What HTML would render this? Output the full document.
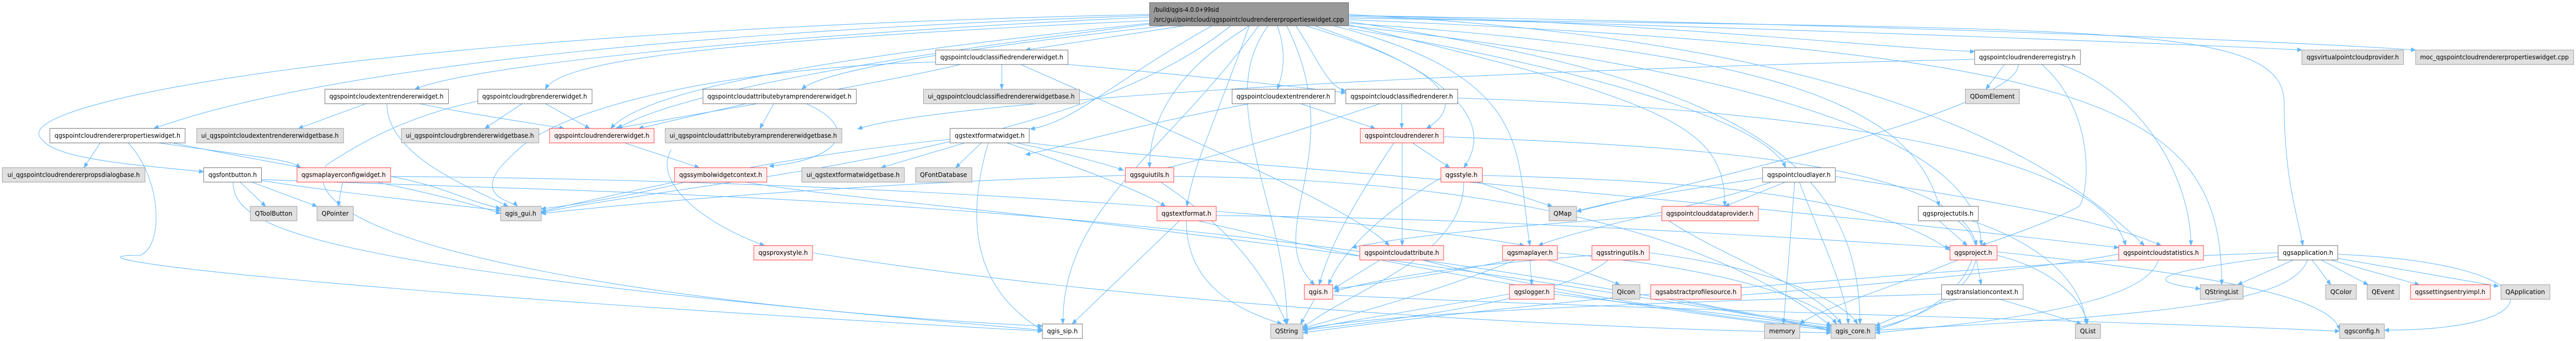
<!DOCTYPE html>
<html><head><meta charset="utf-8"><style>
html,body{margin:0;padding:0;background:#fff;width:100%;height:100%;overflow:hidden;}
svg{display:block;width:100vw;height:100vh;}
text{font-family:"DejaVu Sans","Liberation Sans",sans-serif;font-size:12px;fill:#000;}
.e{fill:none;stroke:#63b8ff;stroke-width:1.1;marker-end:url(#ah);}
.w{fill:#fff;stroke:#666;}
.g{fill:#e0e0e0;stroke:#999;}
.r{fill:#fff0f0;stroke:#f33;}
</style></head><body>
<svg viewBox="0 0 5526 661" preserveAspectRatio="none" xmlns="http://www.w3.org/2000/svg">
<defs><marker id="ah" markerWidth="11" markerHeight="9" refX="10" refY="4.5" orient="auto" markerUnits="userSpaceOnUse"><path d="M0,0 L11,4.5 L0,9 z" fill="#63b8ff"/></marker></defs>
<g>
<path class="e" d="M2540 50 C2400 70,2260 88,2200 97"/>
<path class="e" d="M2466 30 C1500 60,700 130,330 249"/>
<path class="e" d="M2466 33 C1600 70,1000 130,890 173"/>
<path class="e" d="M2466 28 C800 60,0 200,90 270 C120 310,300 320,437 333"/>
<path class="e" d="M2466 40 C1500 80,1200 120,1170 173"/>
<path class="e" d="M2466 45 C1900 100,1400 160,1310 249"/>
<path class="e" d="M2466 47 C1900 110,1450 180,1325 249"/>
<path class="e" d="M2500 50 C2000 100,1760 140,1720 173"/>
<path class="e" d="M2600 50 C2400 150,2300 240,2210 250"/>
<path class="e" d="M2640 50 C2300 300,1500 350,1161 412"/>
<path class="e" d="M2680 50 C2500 150,2466 250,2466 325"/>
<path class="e" d="M2700 50 C2500 300,2280 400,2280 628"/>
<path class="e" d="M2720 50 C2600 200,2761 400,2761 628"/>
<path class="e" d="M2740 50 C2760 100,2754 140,2740 173"/>
<path class="e" d="M2780 50 C2830 120,2850 170,2887 176"/>
<path class="e" d="M2800 50 C3100 130,3150 200,3060 249"/>
<path class="e" d="M2820 50 C3150 150,3200 250,3140 325"/>
<path class="e" d="M2680 50 C2600 250,2560 320,2546 400"/>
<path class="e" d="M2860 50 C3300 150,3250 300,3282 476"/>
<path class="e" d="M2893 45 C3800 100,4100 200,4160 400"/>
<path class="e" d="M2893 50 C3900 150,4250 300,4250 476"/>
<path class="e" d="M2893 55 C3500 150,3800 250,3830 325"/>
<path class="e" d="M2893 30 C3500 40,4000 90,4236 100"/>
<path class="e" d="M2893 28 C4000 80,4400 300,4600 476"/>
<path class="e" d="M2893 32 C4000 60,4800 90,4938 97"/>
<path class="e" d="M2893 30 C4200 50,5000 85,5182 97"/>
<path class="e" d="M2893 35 C4500 60,4900 40,4900 200 C4900 350,4930 420,4940 476"/>
<path class="e" d="M2893 38 C4500 100,4766 200,4766 552"/>
<path class="e" d="M2893 42 C3700 150,3990 300,3990 628"/>
<path class="e" d="M2893 48 C3600 200,3700 250,3700 400"/>
<path class="e" d="M2760 50 C2900 300,2700 450,2820 552"/>
<path class="e" d="M215 277 L180 325"/>
<path class="e" d="M340 277 C600 310,620 310,645 325"/>
<path class="e" d="M370 277 C600 320,900 360,1074 414"/>
<path class="e" d="M275 277 C350 350,350 480,300 495 C100 495,600 560,2236 642"/>
<path class="e" d="M515 353 L570 400"/>
<path class="e" d="M540 353 L680 400"/>
<path class="e" d="M561 350 C700 370,900 390,1074 408"/>
<path class="e" d="M500 353 C500 450,700 520,2236 640"/>
<path class="e" d="M561 348 C1500 380,2500 380,3928 640"/>
<path class="e" d="M735 353 L725 400"/>
<path class="e" d="M838 342 C950 360,1000 390,1074 404"/>
<path class="e" d="M838 342 C2000 350,3000 430,3270 476"/>
<path class="e" d="M785 201 L640 249"/>
<path class="e" d="M900 201 C1000 220,1150 240,1210 249"/>
<path class="e" d="M830 201 C830 300,1000 360,1090 400"/>
<path class="e" d="M1120 201 L1040 249"/>
<path class="e" d="M1170 201 L1265 249"/>
<path class="e" d="M1025 196 C900 220,800 260,700 320 C600 480,1500 600,2236 632"/>
<path class="e" d="M1600 201 L1370 249"/>
<path class="e" d="M1660 201 L1630 249"/>
<path class="e" d="M1730 201 C1850 250,1800 310,1650 322"/>
<path class="e" d="M1340 277 L1500 325"/>
<path class="e" d="M1470 353 C1350 380,1250 395,1161 405"/>
<path class="e" d="M1600 353 C1900 400,2500 420,3928 636"/>
<path class="e" d="M2149 125 L2149 173"/>
<path class="e" d="M2060 125 C1900 160,1500 220,1320 249"/>
<path class="e" d="M2010 120 C1600 130,1200 200,1100 300 C1000 380,1100 390,1110 400"/>
<path class="e" d="M2190 125 C2500 250,2900 400,2980 476"/>
<path class="e" d="M2291 125 C2600 150,2800 170,2887 180"/>
<path class="e" d="M1440 290 C1400 350,1500 430,1640 476"/>
<path class="e" d="M1743 490 C2500 600,3500 640,3928 645"/>
<path class="e" d="M2070 277 L1890 325"/>
<path class="e" d="M2105 277 L2050 325"/>
<path class="e" d="M2180 277 C2300 300,2380 320,2410 330"/>
<path class="e" d="M2160 277 C2300 320,2450 370,2500 400"/>
<path class="e" d="M2120 277 C2080 400,2070 550,2236 640"/>
<path class="e" d="M2038 270 C1700 300,1400 360,1161 410"/>
<path class="e" d="M2208 277 C2600 320,3300 350,4545 480"/>
<path class="e" d="M2414 340 C2000 350,1500 380,1161 414"/>
<path class="e" d="M2518 342 C3000 345,3600 400,3928 632"/>
<path class="e" d="M2490 353 C2600 420,2700 500,2760 628"/>
<path class="e" d="M2530 428 L2300 628"/>
<path class="e" d="M2545 428 C2545 550,2650 600,2750 628"/>
<path class="e" d="M2570 428 C2900 500,3500 600,3928 640"/>
<path class="e" d="M2609 418 C3000 420,3500 440,4183 480"/>
<path class="e" d="M2790 201 L2950 249"/>
<path class="e" d="M2680 201 C2400 250,2300 280,2200 300"/>
<path class="e" d="M3007 201 L3007 249"/>
<path class="e" d="M2960 201 C2700 280,2500 330,2470 330"/>
<path class="e" d="M3127 190 C3800 210,4500 280,4560 476"/>
<path class="e" d="M3030 277 L3110 325"/>
<path class="e" d="M3008 277 L3008 476"/>
<path class="e" d="M2990 277 C2900 400,2850 480,2830 552"/>
<path class="e" d="M3097 265 C3500 280,4200 300,4240 476"/>
<path class="e" d="M3170 353 L3330 400"/>
<path class="e" d="M3140 353 C3140 500,2900 560,2795 635"/>
<path class="e" d="M3091 345 C2950 420,2870 500,2850 552"/>
<path class="e" d="M3180 340 C3600 350,4000 370,4183 485"/>
<path class="e" d="M3830 353 L3700 400"/>
<path class="e" d="M3781 345 C3600 370,3450 390,3382 410"/>
<path class="e" d="M3850 353 L3826 628"/>
<path class="e" d="M3860 353 C3900 450,3960 560,3965 628"/>
<path class="e" d="M3937 342 C4200 380,4500 420,4636 476"/>
<path class="e" d="M3800 353 C3650 400,3400 440,3300 476"/>
<path class="e" d="M3580 428 C3700 500,3900 560,3950 628"/>
<path class="e" d="M3565 418 C3200 440,3000 460,2900 480"/>
<path class="e" d="M2960 504 L2860 560"/>
<path class="e" d="M3050 504 C3300 560,3700 620,3928 636"/>
<path class="e" d="M3240 504 C3100 530,2950 550,2862 560"/>
<path class="e" d="M3282 504 L3286 552"/>
<path class="e" d="M3320 504 C3380 520,3440 540,3475 552"/>
<path class="e" d="M3250 504 C3100 560,2900 610,2795 636"/>
<path class="e" d="M3341 490 C3700 520,3900 580,3940 628"/>
<path class="e" d="M3415 495 C3200 510,3000 530,2862 565"/>
<path class="e" d="M3450 504 C3350 580,3000 620,2795 640"/>
<path class="e" d="M3538 490 C3800 520,3950 580,3985 628"/>
<path class="e" d="M2820 580 L2790 628"/>
<path class="e" d="M2859 572 C3500 600,4500 620,5019 642"/>
<path class="e" d="M3238 570 C3050 600,2900 620,2795 640"/>
<path class="e" d="M3334 570 C3600 600,3850 620,3928 642"/>
<path class="e" d="M3600 580 C3750 610,3880 625,3930 632"/>
<path class="e" d="M3541 570 C3200 600,3000 620,2795 645"/>
<path class="e" d="M3735 572 C4200 540,4550 500,4600 480"/>
<path class="e" d="M4300 125 L4260 173"/>
<path class="e" d="M4330 125 C4330 200,3800 320,3382 410"/>
<path class="e" d="M4380 125 C4500 220,4480 380,4460 400 C4400 430,4300 460,4250 476"/>
<path class="e" d="M4420 125 C4600 180,4700 350,4700 476"/>
<path class="e" d="M4236 115 C3000 140,2000 200,1840 250"/>
<path class="e" d="M4160 428 L4220 476"/>
<path class="e" d="M4230 428 C4400 480,4470 560,4475 628"/>
<path class="e" d="M4200 428 C4300 500,4200 600,4023 636"/>
<path class="e" d="M4240 504 L4250 552"/>
<path class="e" d="M4200 504 C4050 560,3900 600,3861 628"/>
<path class="e" d="M4230 504 C4200 580,4100 620,4023 640"/>
<path class="e" d="M4284 495 C4400 520,4470 580,4478 628"/>
<path class="e" d="M4284 488 C4600 520,5000 560,5019 640"/>
<path class="e" d="M4200 580 C4100 600,4050 620,4023 632"/>
<path class="e" d="M4290 580 L4465 628"/>
<path class="e" d="M4165 570 C3800 580,3000 600,2795 638"/>
<path class="e" d="M4630 504 C4600 600,4200 630,4023 645"/>
<path class="e" d="M4920 504 L4800 552"/>
<path class="e" d="M4960 504 L5000 552"/>
<path class="e" d="M4980 504 L5080 552"/>
<path class="e" d="M5000 504 L5190 552"/>
<path class="e" d="M5010 500 L5360 555"/>
<path class="e" d="M5015 493 C5480 510,5500 640,5115 640"/>
<path class="e" d="M4950 504 C4920 580,4700 610,4023 640"/>
<path class="e" d="M4887 490 C4500 500,4000 540,3700 560"/>
<path class="e" d="M4887 497 C4700 520,4550 540,4720 560"/>
</g>
<g>
<rect x="2466" y="5" width="427" height="45" fill="#999" stroke="#666"/>
<text x="2475" y="23">/build/qgis-4.0.0+99sid</text>
<text x="2475" y="42" textLength="408" lengthAdjust="spacingAndGlyphs">/src/gui/pointcloud/qgspointcloudrendererpropertieswidget.cpp</text>
</g>
<g text-anchor="middle">
<rect class="w" x="2007" y="97" width="284" height="28"/><text x="2149" y="115" textLength="264" lengthAdjust="spacingAndGlyphs">qgspointcloudclassifiedrendererwidget.h</text>
<rect class="w" x="4236" y="97" width="227" height="28"/><text x="4349" y="115" textLength="207" lengthAdjust="spacingAndGlyphs">qgspointcloudrendererregistry.h</text>
<rect class="g" x="4938" y="97" width="218" height="28"/><text x="5047" y="115" textLength="198" lengthAdjust="spacingAndGlyphs">qgsvirtualpointcloudprovider.h</text>
<rect class="g" x="5182" y="97" width="339" height="28"/><text x="5351" y="115" textLength="319" lengthAdjust="spacingAndGlyphs">moc_qgspointcloudrendererpropertieswidget.cpp</text>

<rect class="w" x="697" y="173" width="265" height="28"/><text x="829" y="191" textLength="245" lengthAdjust="spacingAndGlyphs">qgspointcloudextentrendererwidget.h</text>
<rect class="w" x="1025" y="173" width="245" height="28"/><text x="1147" y="191" textLength="225" lengthAdjust="spacingAndGlyphs">qgspointcloudrgbrendererwidget.h</text>
<rect class="w" x="1508" y="173" width="329" height="28"/><text x="1672" y="191" textLength="309" lengthAdjust="spacingAndGlyphs">qgspointcloudattributebyramprendererwidget.h</text>
<rect class="g" x="1981" y="173" width="335" height="28"/><text x="2148" y="191" textLength="315" lengthAdjust="spacingAndGlyphs">ui_qgspointcloudclassifiedrendererwidgetbase.h</text>
<rect class="w" x="2643" y="173" width="221" height="28"/><text x="2753" y="191" textLength="201" lengthAdjust="spacingAndGlyphs">qgspointcloudextentrenderer.h</text>
<rect class="w" x="2887" y="173" width="240" height="28"/><text x="3007" y="191" textLength="220" lengthAdjust="spacingAndGlyphs">qgspointcloudclassifiedrenderer.h</text>
<rect class="g" x="4216" y="173" width="116" height="28"/><text x="4274" y="191" textLength="96" lengthAdjust="spacingAndGlyphs">QDomElement</text>

<rect class="w" x="107" y="249" width="290" height="28"/><text x="252" y="267" textLength="270" lengthAdjust="spacingAndGlyphs">qgspointcloudrendererpropertieswidget.h</text>
<rect class="g" x="422" y="249" width="315" height="28"/><text x="579" y="267" textLength="295" lengthAdjust="spacingAndGlyphs">ui_qgspointcloudextentrendererwidgetbase.h</text>
<rect class="g" x="861" y="249" width="295" height="28"/><text x="1008" y="267" textLength="275" lengthAdjust="spacingAndGlyphs">ui_qgspointcloudrgbrendererwidgetbase.h</text>
<rect class="r" x="1179" y="249" width="224" height="28"/><text x="1291" y="267" textLength="204" lengthAdjust="spacingAndGlyphs">qgspointcloudrendererwidget.h</text>
<rect class="g" x="1427" y="249" width="379" height="28"/><text x="1616" y="267" textLength="359" lengthAdjust="spacingAndGlyphs">ui_qgspointcloudattributebyramprendererwidgetbase.h</text>
<rect class="w" x="2038" y="249" width="170" height="28"/><text x="2123" y="267" textLength="150" lengthAdjust="spacingAndGlyphs">qgstextformatwidget.h</text>
<rect class="r" x="2918" y="249" width="179" height="28"/><text x="3007" y="267" textLength="159" lengthAdjust="spacingAndGlyphs">qgspointcloudrenderer.h</text>

<rect class="g" x="5" y="325" width="306" height="28"/><text x="158" y="343" textLength="284" lengthAdjust="spacingAndGlyphs">ui_qgspointcloudrendererpropsdialogbase.h</text>
<rect class="w" x="437" y="325" width="124" height="28"/><text x="499" y="343" textLength="104" lengthAdjust="spacingAndGlyphs">qgsfontbutton.h</text>
<rect class="r" x="637" y="325" width="201" height="28"/><text x="737" y="343" textLength="181" lengthAdjust="spacingAndGlyphs">qgsmaplayerconfigwidget.h</text>
<rect class="r" x="1447" y="325" width="198" height="28"/><text x="1546" y="343" textLength="178" lengthAdjust="spacingAndGlyphs">qgssymbolwidgetcontext.h</text>
<rect class="g" x="1720" y="325" width="220" height="28"/><text x="1830" y="343" textLength="200" lengthAdjust="spacingAndGlyphs">ui_qgstextformatwidgetbase.h</text>
<rect class="g" x="1964" y="325" width="121" height="28"/><text x="2024" y="343" textLength="101" lengthAdjust="spacingAndGlyphs">QFontDatabase</text>
<rect class="r" x="2414" y="325" width="104" height="28"/><text x="2466" y="343" textLength="84" lengthAdjust="spacingAndGlyphs">qgsguiutils.h</text>
<rect class="r" x="3091" y="325" width="89" height="28"/><text x="3135" y="343" textLength="69" lengthAdjust="spacingAndGlyphs">qgsstyle.h</text>
<rect class="w" x="3781" y="325" width="156" height="28"/><text x="3859" y="343" textLength="136" lengthAdjust="spacingAndGlyphs">qgspointcloudlayer.h</text>

<rect class="g" x="537" y="400" width="100" height="28"/><text x="587" y="418" textLength="80" lengthAdjust="spacingAndGlyphs">QToolButton</text>
<rect class="g" x="680" y="400" width="78" height="28"/><text x="719" y="418" textLength="58" lengthAdjust="spacingAndGlyphs">QPointer</text>
<rect class="g" x="1074" y="400" width="87" height="28"/><text x="1117" y="418" textLength="67" lengthAdjust="spacingAndGlyphs">qgis_gui.h</text>
<rect class="r" x="2482" y="400" width="127" height="28"/><text x="2545" y="418" textLength="107" lengthAdjust="spacingAndGlyphs">qgstextformat.h</text>
<rect class="g" x="3323" y="400" width="59" height="28"/><text x="3352" y="418" textLength="39" lengthAdjust="spacingAndGlyphs">QMap</text>
<rect class="r" x="3565" y="400" width="207" height="28"/><text x="3668" y="418" textLength="187" lengthAdjust="spacingAndGlyphs">qgspointclouddataprovider.h</text>
<rect class="w" x="4115" y="400" width="129" height="28"/><text x="4179" y="418" textLength="109" lengthAdjust="spacingAndGlyphs">qgsprojectutils.h</text>

<rect class="r" x="1617" y="476" width="126" height="28"/><text x="1680" y="494" textLength="106" lengthAdjust="spacingAndGlyphs">qgsproxystyle.h</text>
<rect class="r" x="2917" y="476" width="180" height="28"/><text x="3007" y="494" textLength="160" lengthAdjust="spacingAndGlyphs">qgspointcloudattribute.h</text>
<rect class="r" x="3223" y="476" width="118" height="28"/><text x="3282" y="494" textLength="98" lengthAdjust="spacingAndGlyphs">qgsmaplayer.h</text>
<rect class="r" x="3415" y="476" width="123" height="28"/><text x="3476" y="494" textLength="103" lengthAdjust="spacingAndGlyphs">qgsstringutils.h</text>
<rect class="r" x="4183" y="476" width="101" height="28"/><text x="4233" y="494" textLength="81" lengthAdjust="spacingAndGlyphs">qgsproject.h</text>
<rect class="r" x="4545" y="476" width="182" height="28"/><text x="4636" y="494" textLength="162" lengthAdjust="spacingAndGlyphs">qgspointcloudstatistics.h</text>
<rect class="w" x="4887" y="476" width="128" height="28"/><text x="4951" y="494" textLength="108" lengthAdjust="spacingAndGlyphs">qgsapplication.h</text>

<rect class="r" x="2798" y="552" width="61" height="28"/><text x="2828" y="570" textLength="41" lengthAdjust="spacingAndGlyphs">qgis.h</text>
<rect class="r" x="3238" y="552" width="96" height="28"/><text x="3286" y="570" textLength="76" lengthAdjust="spacingAndGlyphs">qgslogger.h</text>
<rect class="g" x="3459" y="552" width="59" height="28"/><text x="3488" y="570" textLength="39" lengthAdjust="spacingAndGlyphs">QIcon</text>
<rect class="r" x="3541" y="552" width="194" height="28"/><text x="3638" y="570" textLength="174" lengthAdjust="spacingAndGlyphs">qgsabstractprofilesource.h</text>
<rect class="w" x="4165" y="552" width="175" height="28"/><text x="4252" y="570" textLength="155" lengthAdjust="spacingAndGlyphs">qgstranslationcontext.h</text>
<rect class="g" x="4720" y="552" width="92" height="28"/><text x="4766" y="570" textLength="72" lengthAdjust="spacingAndGlyphs">QStringList</text>
<rect class="g" x="4989" y="552" width="66" height="28"/><text x="5022" y="570" textLength="46" lengthAdjust="spacingAndGlyphs">QColor</text>
<rect class="g" x="5078" y="552" width="69" height="28"/><text x="5112" y="570" textLength="49" lengthAdjust="spacingAndGlyphs">QEvent</text>
<rect class="r" x="5171" y="552" width="171" height="28"/><text x="5256" y="570" textLength="151" lengthAdjust="spacingAndGlyphs">qgssettingsentryimpl.h</text>
<rect class="g" x="5365" y="552" width="105" height="28"/><text x="5417" y="570" textLength="85" lengthAdjust="spacingAndGlyphs">QApplication</text>

<rect class="w" x="2236" y="628" width="86" height="28"/><text x="2279" y="646" textLength="66" lengthAdjust="spacingAndGlyphs">qgis_sip.h</text>
<rect class="g" x="2726" y="628" width="69" height="28"/><text x="2760" y="646" textLength="49" lengthAdjust="spacingAndGlyphs">QString</text>
<rect class="g" x="3785" y="628" width="76" height="28"/><text x="3823" y="646" textLength="56" lengthAdjust="spacingAndGlyphs">memory</text>
<rect class="g" x="3928" y="628" width="95" height="28"/><text x="3975" y="646" textLength="75" lengthAdjust="spacingAndGlyphs">qgis_core.h</text>
<rect class="g" x="4452" y="628" width="54" height="28"/><text x="4479" y="646" textLength="34" lengthAdjust="spacingAndGlyphs">QList</text>
<rect class="g" x="5019" y="628" width="96" height="28"/><text x="5067" y="646" textLength="76" lengthAdjust="spacingAndGlyphs">qgsconfig.h</text>
</g>
</svg>
</body></html>
